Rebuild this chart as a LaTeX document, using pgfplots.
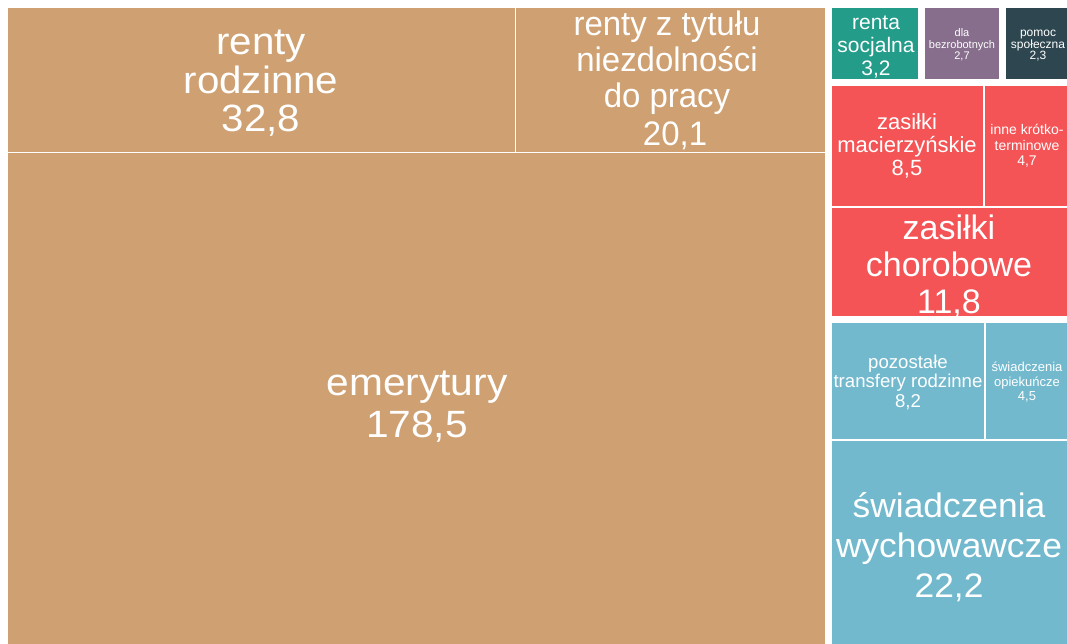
\documentclass[border=0pt]{standalone}
\usepackage{pgfplots}
\pgfplotsset{compat=1.18}
\usepackage{fontspec}
\setmainfont{Liberation Sans}
\definecolor{cbrown}{HTML}{CEA072}
\definecolor{cteal}{HTML}{239C8A}
\definecolor{cpurple}{HTML}{866E8C}
\definecolor{cdark}{HTML}{2D4650}
\definecolor{cred}{HTML}{F45456}
\definecolor{cblue}{HTML}{72B9CE}
% one line of a label: x centre, baseline y, font size, horizontal scale, text
\newcommand{\tl}[5]{\node[anchor=base,text=white,inner sep=0pt,xscale=#4,font=\fontsize{#3}{#3}\selectfont] at (axis cs:#1,#2) {#5};}
\begin{document}
\begin{tikzpicture}
\begin{axis}[
  width=1067pt, height=644pt, scale only axis,
  xmin=0, xmax=1067, ymin=0, ymax=644, y dir=reverse,
  hide axis, clip=true]
% emerytury 178,5 ; renty rodzinne 32,8 ; renty z tytulu 20,1
\addplot[fill=cbrown, draw=none] coordinates {(8,153) (825,153) (825,644) (8,644)} -- cycle;
\addplot[fill=cbrown, draw=none] coordinates {(8,8) (515,8) (515,152) (8,152)} -- cycle;
\addplot[fill=cbrown, draw=none] coordinates {(516,8) (825,8) (825,152) (516,152)} -- cycle;
% renta socjalna 3,2 ; dla bezrobotnych 2,7 ; pomoc spoleczna 2,3
\addplot[fill=cteal, draw=none] coordinates {(832,8) (918,8) (918,79) (832,79)} -- cycle;
\addplot[fill=cpurple, draw=none] coordinates {(925,8) (999,8) (999,79) (925,79)} -- cycle;
\addplot[fill=cdark, draw=none] coordinates {(1006,8) (1067,8) (1067,79) (1006,79)} -- cycle;
% zasilki
\addplot[fill=cred, draw=none] coordinates {(832,86) (983,86) (983,206) (832,206)} -- cycle;
\addplot[fill=cred, draw=none] coordinates {(985,86) (1067,86) (1067,206) (985,206)} -- cycle;
\addplot[fill=cred, draw=none] coordinates {(832,208) (1067,208) (1067,316) (832,316)} -- cycle;
% rodzinne
\addplot[fill=cblue, draw=none] coordinates {(832,323) (984,323) (984,439) (832,439)} -- cycle;
\addplot[fill=cblue, draw=none] coordinates {(986,323) (1067,323) (1067,439) (986,439)} -- cycle;
\addplot[fill=cblue, draw=none] coordinates {(832,441) (1067,441) (1067,644) (832,644)} -- cycle;

\tl{261}{55}{38}{1.06}{renty}
\tl{261}{93.5}{38}{1.06}{rodzinne}
\tl{261}{132}{38}{1.06}{32,8}

\tl{667}{36}{34}{0.97}{renty z tytułu}
\tl{667}{71.5}{34}{0.97}{niezdolności}
\tl{667}{108}{34}{0.97}{do pracy}
\tl{675}{146}{34}{0.97}{20,1}

\tl{417}{395}{38}{1.07}{emerytury}
\tl{417}{437}{38}{1.07}{178,5}

\tl{876}{30}{21}{1}{renta}
\tl{876}{52.5}{21}{1}{socjalna}
\tl{876}{75.5}{21}{1}{3,2}

\tl{962}{37}{11}{1}{dla}
\tl{962}{48.5}{11}{1}{bezrobotnych}
\tl{962}{60}{11}{1}{2,7}

\tl{1038}{37}{12}{1}{pomoc}
\tl{1038}{48.5}{12}{1}{społeczna}
\tl{1038}{60}{12}{1}{2,3}

\tl{907}{130}{22}{1}{zasiłki}
\tl{907}{153}{22}{1}{macierzyńskie}
\tl{907}{176}{22}{1}{8,5}

\tl{1027}{135}{14}{1}{inne krótko-}
\tl{1027}{151}{14}{1}{terminowe}
\tl{1027}{166}{14}{1}{4,7}

\tl{949}{240}{34}{1}{zasiłki}
\tl{949}{276}{34}{1}{chorobowe}
\tl{949}{313}{34}{1}{11,8}

\tl{908}{368}{18.6}{1}{pozostałe}
\tl{908}{387.5}{18.6}{1}{transfery rodzinne}
\tl{908}{407.5}{18.6}{1}{8,2}

\tl{1027}{371}{13}{1}{świadczenia}
\tl{1027}{386}{13}{1}{opiekuńcze}
\tl{1027}{400}{13}{1}{4,5}

\tl{949}{517}{34}{1.04}{świadczenia}
\tl{949}{557}{34}{1.04}{wychowawcze}
\tl{949}{597}{34}{1.04}{22,2}
\end{axis}
\path (current axis.south west) rectangle (current axis.north east);
\end{tikzpicture}
\end{document}
